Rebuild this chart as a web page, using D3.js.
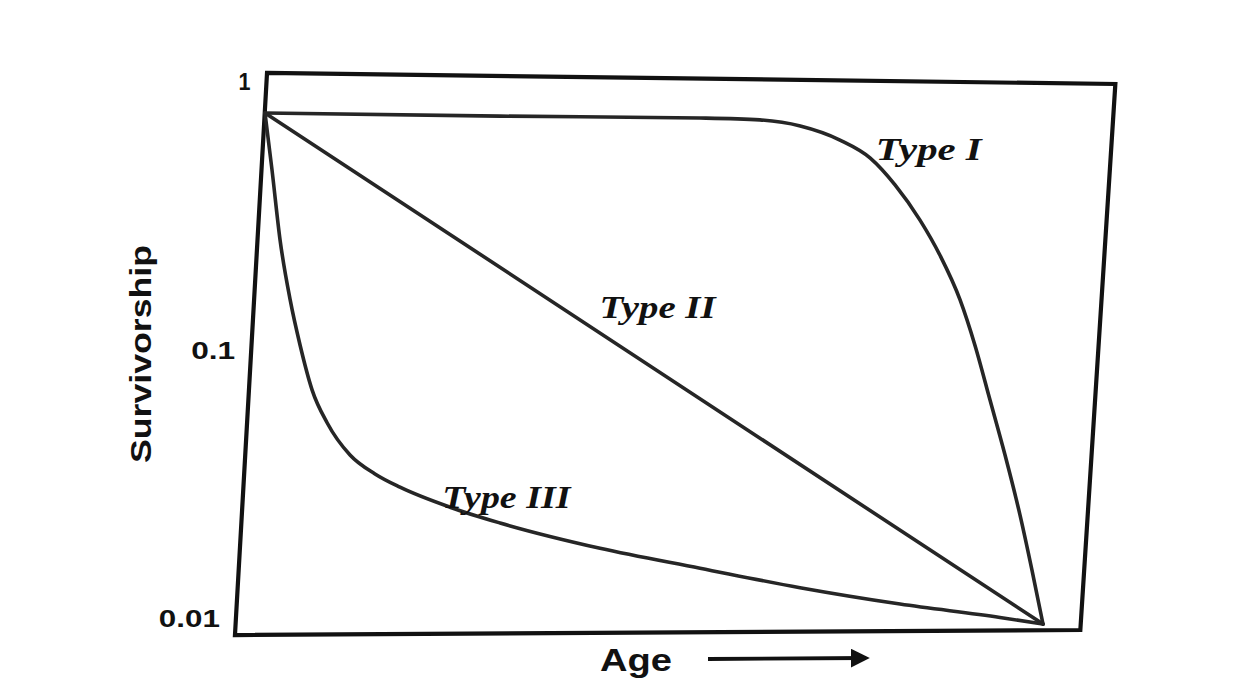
<!DOCTYPE html>
<html>
<head>
<meta charset="utf-8">
<script src="https://cdn.jsdelivr.net/npm/d3@7"></script>
<style>
  html, body { margin: 0; padding: 0; background: #fff; }
  svg { display: block; }
</style>
</head>
<body>
<svg id="chart" width="1255" height="685"></svg>
<script>
// ---- Data (age in % of max lifespan, survivorship on log scale) ----
const typeIAge  = [0, 30.2, 55.9, 63.6, 68.8, 73.9, 77.8, 80.98, 84.19, 86.76, 89.33, 91.26, 93.19, 95.12, 97.04, 98.59, 100];
const typeISurv = [0.73, 0.711, 0.700, 0.689, 0.655, 0.583, 0.502, 0.402, 0.300, 0.224, 0.155, 0.106, 0.0674, 0.0427, 0.0260, 0.0164, 0.0105];

const typeIIAge  = [0, 100];
const typeIISurv = [0.73, 0.0105];

const typeIIIAge  = [0, 0.9, 1.94, 3.23, 4.52, 6.06, 8.0, 10.93, 14.14, 17.35, 23.78, 30.21, 43.06, 55.91, 68.77, 81.62, 94.47, 100];
const typeIIISurv = [0.73, 0.455, 0.254, 0.155, 0.106, 0.0732, 0.0557, 0.0427, 0.0365, 0.0327, 0.0277, 0.0243, 0.0197, 0.0167, 0.0142, 0.0124, 0.0111, 0.0105];

const yTickValues = [1, 0.1, 0.01];
const yTickLabels = ["1", "0.1", "0.01"];

// hand-drawn (slightly skewed) frame corners, in data units
const frameAge  = [0.26, 109.3, 104.8, -3.86];
const frameSurv = [1.017, 0.928, 0.01, 0.00959];

const curveLabels = ["Type I", "Type II", "Type III"];
const curveLabelAge  = [78.5, 43.0, 22.8];
const curveLabelSurv = [0.494, 0.133, 0.0275];

// ---- Scales ----
const x = d3.scaleLinear().domain([0, 100]).range([265, 1043]);
const y = d3.scaleLog().domain([1, 0.01]).range([75, 630]);
const yLab = d3.scaleLog().domain([1, 0.01]).range([82, 619]);

const svg = d3.select("#chart");

// ---- Frame ----
const framePts = frameAge.map((a, i) => [x(a), y(frameSurv[i])]);
svg.append("path")
  .attr("d", d3.line().curve(d3.curveLinearClosed)(framePts))
  .attr("fill", "none")
  .attr("stroke", "#111")
  .attr("stroke-width", 4.2)
  .attr("stroke-linejoin", "miter");

// left edge x at a given pixel y (for label placement)
const tl = framePts[0], bl = framePts[3];
const leftEdgeX = py => tl[0] + (bl[0] - tl[0]) * (py - tl[1]) / (bl[1] - tl[1]);

// ---- Curves ----
const line = d3.line().x(d => x(d[0])).y(d => y(d[1])).curve(d3.curveMonotoneX);
const series = [
  typeIAge.map((a, i) => [a, typeISurv[i]]),
  typeIIAge.map((a, i) => [a, typeIISurv[i]]),
  typeIIIAge.map((a, i) => [a, typeIIISurv[i]])
];
svg.selectAll("path.curve")
  .data(series)
  .join("path")
  .attr("class", "curve")
  .attr("d", line)
  .attr("fill", "none")
  .attr("stroke", "#262626")
  .attr("stroke-width", 3.6)
  .attr("stroke-linecap", "round");

// ---- Y tick labels ----
const tickLen = [12, 44, 61];
svg.selectAll("text.ytick")
  .data(yTickValues)
  .join("text")
  .attr("class", "ytick")
  .attr("x", d => leftEdgeX(yLab(d)) - 16)
  .attr("y", d => yLab(d))
  .attr("dy", "0.36em")
  .attr("text-anchor", "end")
  .attr("font-family", "Liberation Sans, Arial, sans-serif")
  .attr("font-weight", "bold")
  .attr("font-size", 23)
  .attr("fill", "#111")
  .attr("textLength", (d, i) => tickLen[i])
  .attr("lengthAdjust", "spacingAndGlyphs")
  .text((d, i) => yTickLabels[i]);

// ---- Axis titles ----
svg.append("text")
  .attr("transform", "translate(151,354) rotate(-90)")
  .attr("text-anchor", "middle")
  .attr("font-family", "Liberation Sans, Arial, sans-serif")
  .attr("font-weight", "bold")
  .attr("font-size", 30)
  .attr("fill", "#111")
  .attr("textLength", 218)
  .attr("lengthAdjust", "spacingAndGlyphs")
  .text("Survivorship");

svg.append("text")
  .attr("x", 600)
  .attr("y", 671)
  .attr("font-family", "Liberation Sans, Arial, sans-serif")
  .attr("font-weight", "bold")
  .attr("font-size", 31)
  .attr("fill", "#111")
  .attr("textLength", 72)
  .attr("lengthAdjust", "spacingAndGlyphs")
  .text("Age");

// arrow
svg.append("defs").append("marker")
  .attr("id", "arrow")
  .attr("viewBox", "0 0 10 10")
  .attr("refX", 8).attr("refY", 5)
  .attr("markerWidth", 5).attr("markerHeight", 5)
  .attr("orient", "auto")
  .append("path")
  .attr("d", "M0,0 L10,5 L0,10 Z")
  .attr("fill", "#111");
svg.append("line")
  .attr("x1", 708).attr("y1", 659)
  .attr("x2", 866).attr("y2", 658)
  .attr("stroke", "#111")
  .attr("stroke-width", 3.8)
  .attr("marker-end", "url(#arrow)");

// ---- Curve labels ----
const labLen = [106, 116, 128];
svg.selectAll("text.clabel")
  .data(curveLabels)
  .join("text")
  .attr("class", "clabel")
  .attr("x", (d, i) => x(curveLabelAge[i]))
  .attr("y", (d, i) => y(curveLabelSurv[i]))
  .attr("font-family", "Liberation Serif, Times New Roman, serif")
  .attr("font-weight", "bold")
  .attr("font-style", "italic")
  .attr("font-size", 32)
  .attr("fill", "#111")
  .attr("textLength", (d, i) => labLen[i])
  .attr("lengthAdjust", "spacingAndGlyphs")
  .text(d => d);
</script>
</body>
</html>
